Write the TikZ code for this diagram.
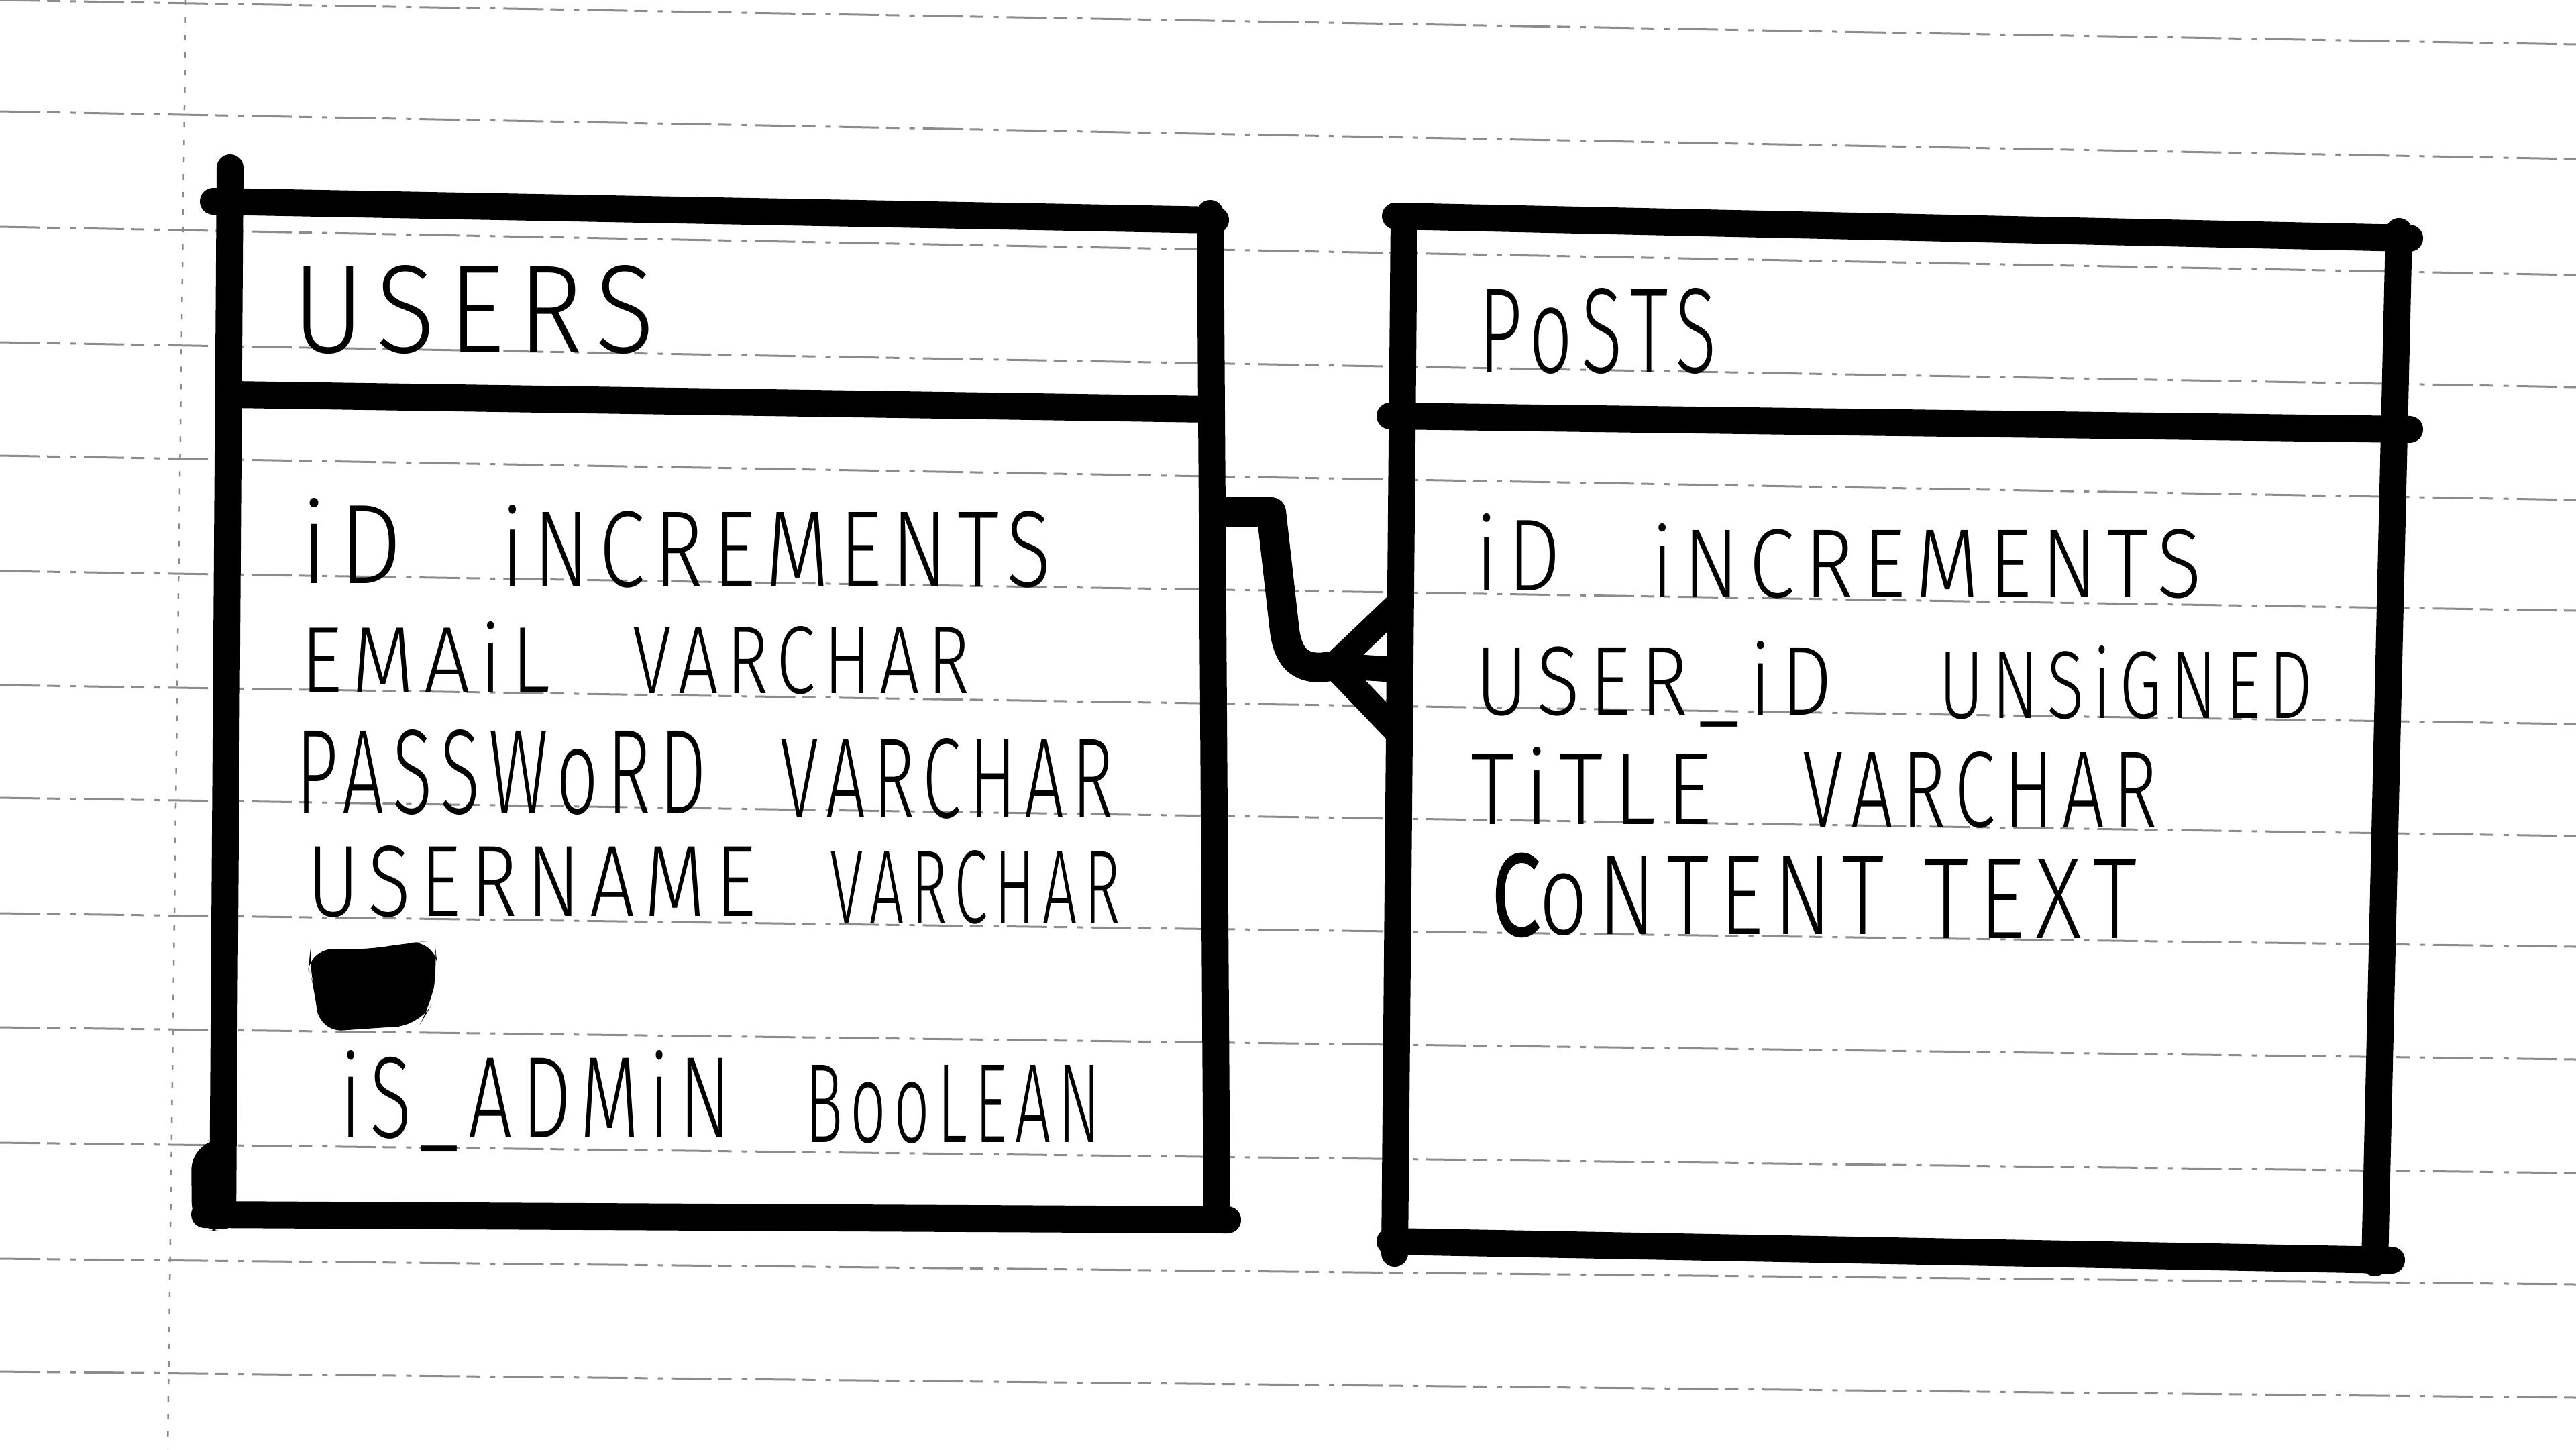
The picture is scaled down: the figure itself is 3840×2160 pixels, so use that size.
\documentclass[tikz,border=0pt]{standalone}
\usepackage{fontspec}
\usepackage{graphicx}
\newfontfamily\hand{Fira Sans Light}[LetterSpace=12]
\newlength\upx
\setlength\upx{0.01cm}
% a word squeezed into a box of given width and height (in 0.01cm units)
\newcommand\fitbox[3]{\resizebox{#1\upx}{#2\upx}{\hand #3}}

\begin{document}
\begin{tikzpicture}[x=0.01cm,y=-0.01cm,
  ruling/.style={black!45, line width=0.03cm,
    dash pattern=on 0.6cm off 0.1cm on 0.2cm off 0.15cm on 0.08cm off 0.12cm},
  margin/.style={black!45, line width=0.025cm, dash pattern=on 0.08cm off 0.18cm},
  ink/.style={line width=0.4cm, line cap=round, line join=round},
  prong/.style={line width=0.38cm, line cap=round},
  label/.style={anchor=base west, inner sep=0pt, outer sep=0pt}]
\useasboundingbox (0,0) rectangle (3840,2160);
\fill[white] (0,0) rectangle (3840,2160);

% ruled paper
\foreach \l/\r in {0/66,166/237,338/410,510/577,679/745,851/910,1021/1079,
                   1189/1246,1361/1411,1531/1579,1703/1748,1876/1914,2044/2083}
  \draw[ruling] (0,\l) -- (3840,\r);
\draw[margin] (277,0) -- (250,2160);

% ---- users table ----
\draw[ink] (343,250) -- (332,1812);
\draw[ink] (318,300) -- (1812,328);
\draw[ink] (1804,318) -- (1814,1818);
\draw[ink] (346,588) -- (1804,610);
\draw[ink] (305,1810) -- (1830,1818);
\fill[rounded corners=12] (285,1702) -- (352,1696) -- (352,1834) -- (286,1834) -- cycle;
% scribbled-out entry
\fill[rounded corners=10] (463,1413) -- (540,1416) -- (612,1405) -- (648,1402)
  -- (652,1440) -- (642,1500) -- (625,1528) -- (560,1532) -- (476,1538)
  -- (470,1480) -- (460,1440) -- cycle;

\node[label] (usersTitle) at (436,525) {\fitbox{540}{130}{USERS}};
\node[label] (uIdName)   at (448,869)  {\fitbox{152}{127}{iD}};
\node[label] (uIdType)   at (747,874)  {\fitbox{820}{122}{iNCREMENTS}};
\node[label] (uMailName) at (448,1031) {\fitbox{372}{105}{EMAiL}};
\node[label] (uMailType) at (943,1033) {\fitbox{502}{100}{VARCHAR}};
\node[label] (uPassName) at (441,1212) {\fitbox{612}{125}{PASSWoRD}};
\node[label] (uPassType) at (1163,1218) {\fitbox{497}{118}{VARCHAR}};
\node[label] (uNameName) at (458,1365) {\fitbox{669}{105}{USERNAME}};
\node[label] (uNameType) at (1237,1375) {\fitbox{433}{108}{VARCHAR}};
\node[label] (uAdmName)  at (507,1695) {\fitbox{583}{130}{iS\_ADMiN}};
\node[label] (uAdmType)  at (1200,1702) {\fitbox{441}{115}{BooLEAN}};

% ---- posts table ----
\draw[ink] (2080,322) -- (3592,355);
\draw[ink] (2093,322) -- (2079,1868);
\draw[ink] (3576,345) -- (3540,1882);
\draw[ink] (2072,620) -- (3592,640);
\draw[ink] (2072,1850) -- (3565,1878);

\node[label] (postsTitle) at (2204,555) {\fitbox{355}{126}{PoSTS}};
\node[label] (pIdName)    at (2199,880)  {\fitbox{128}{115}{iD}};
\node[label] (pIdType)    at (2461,890)  {\fitbox{821}{110}{iNCREMENTS}};
\node[label] (pUserName)  at (2199,1065) {\fitbox{532}{110}{USER\_iD}};
\node[label] (pUserType)  at (2890,1070) {\fitbox{558}{108}{UNSiGNED}};
\node[label] (pTitleName) at (2192,1228) {\fitbox{360}{115}{TiTLE}};
\node[label] (pTitleType) at (2687,1232) {\fitbox{529}{113}{VARCHAR}};
\node[label] (pBodyName)  at (2224,1392) {\fitbox{585}{118}{{\addfontfeature{FakeBold=4}C}oNTENT}};
\node[label] (pBodyType)  at (2868,1398) {\fitbox{318}{118}{TEXT}};

% ---- one-to-many relation ----
\coordinate (relStart) at (1800,763);
\coordinate (relFoot) at (1988,992);
\coordinate (manyA) at (2080,904);
\coordinate (manyB) at (2080,998);
\coordinate (manyC) at (2080,1088);
\draw[line width=0.44cm, line join=round] (relStart) -- (1895,763) -- (1915,940)
  .. controls (1922,992) and (1950,1000) .. (relFoot);
\draw[prong] (relFoot) -- (manyA);
\draw[prong] (relFoot) -- (manyB);
\draw[prong] (relFoot) -- (manyC);
\end{tikzpicture}
\end{document}
